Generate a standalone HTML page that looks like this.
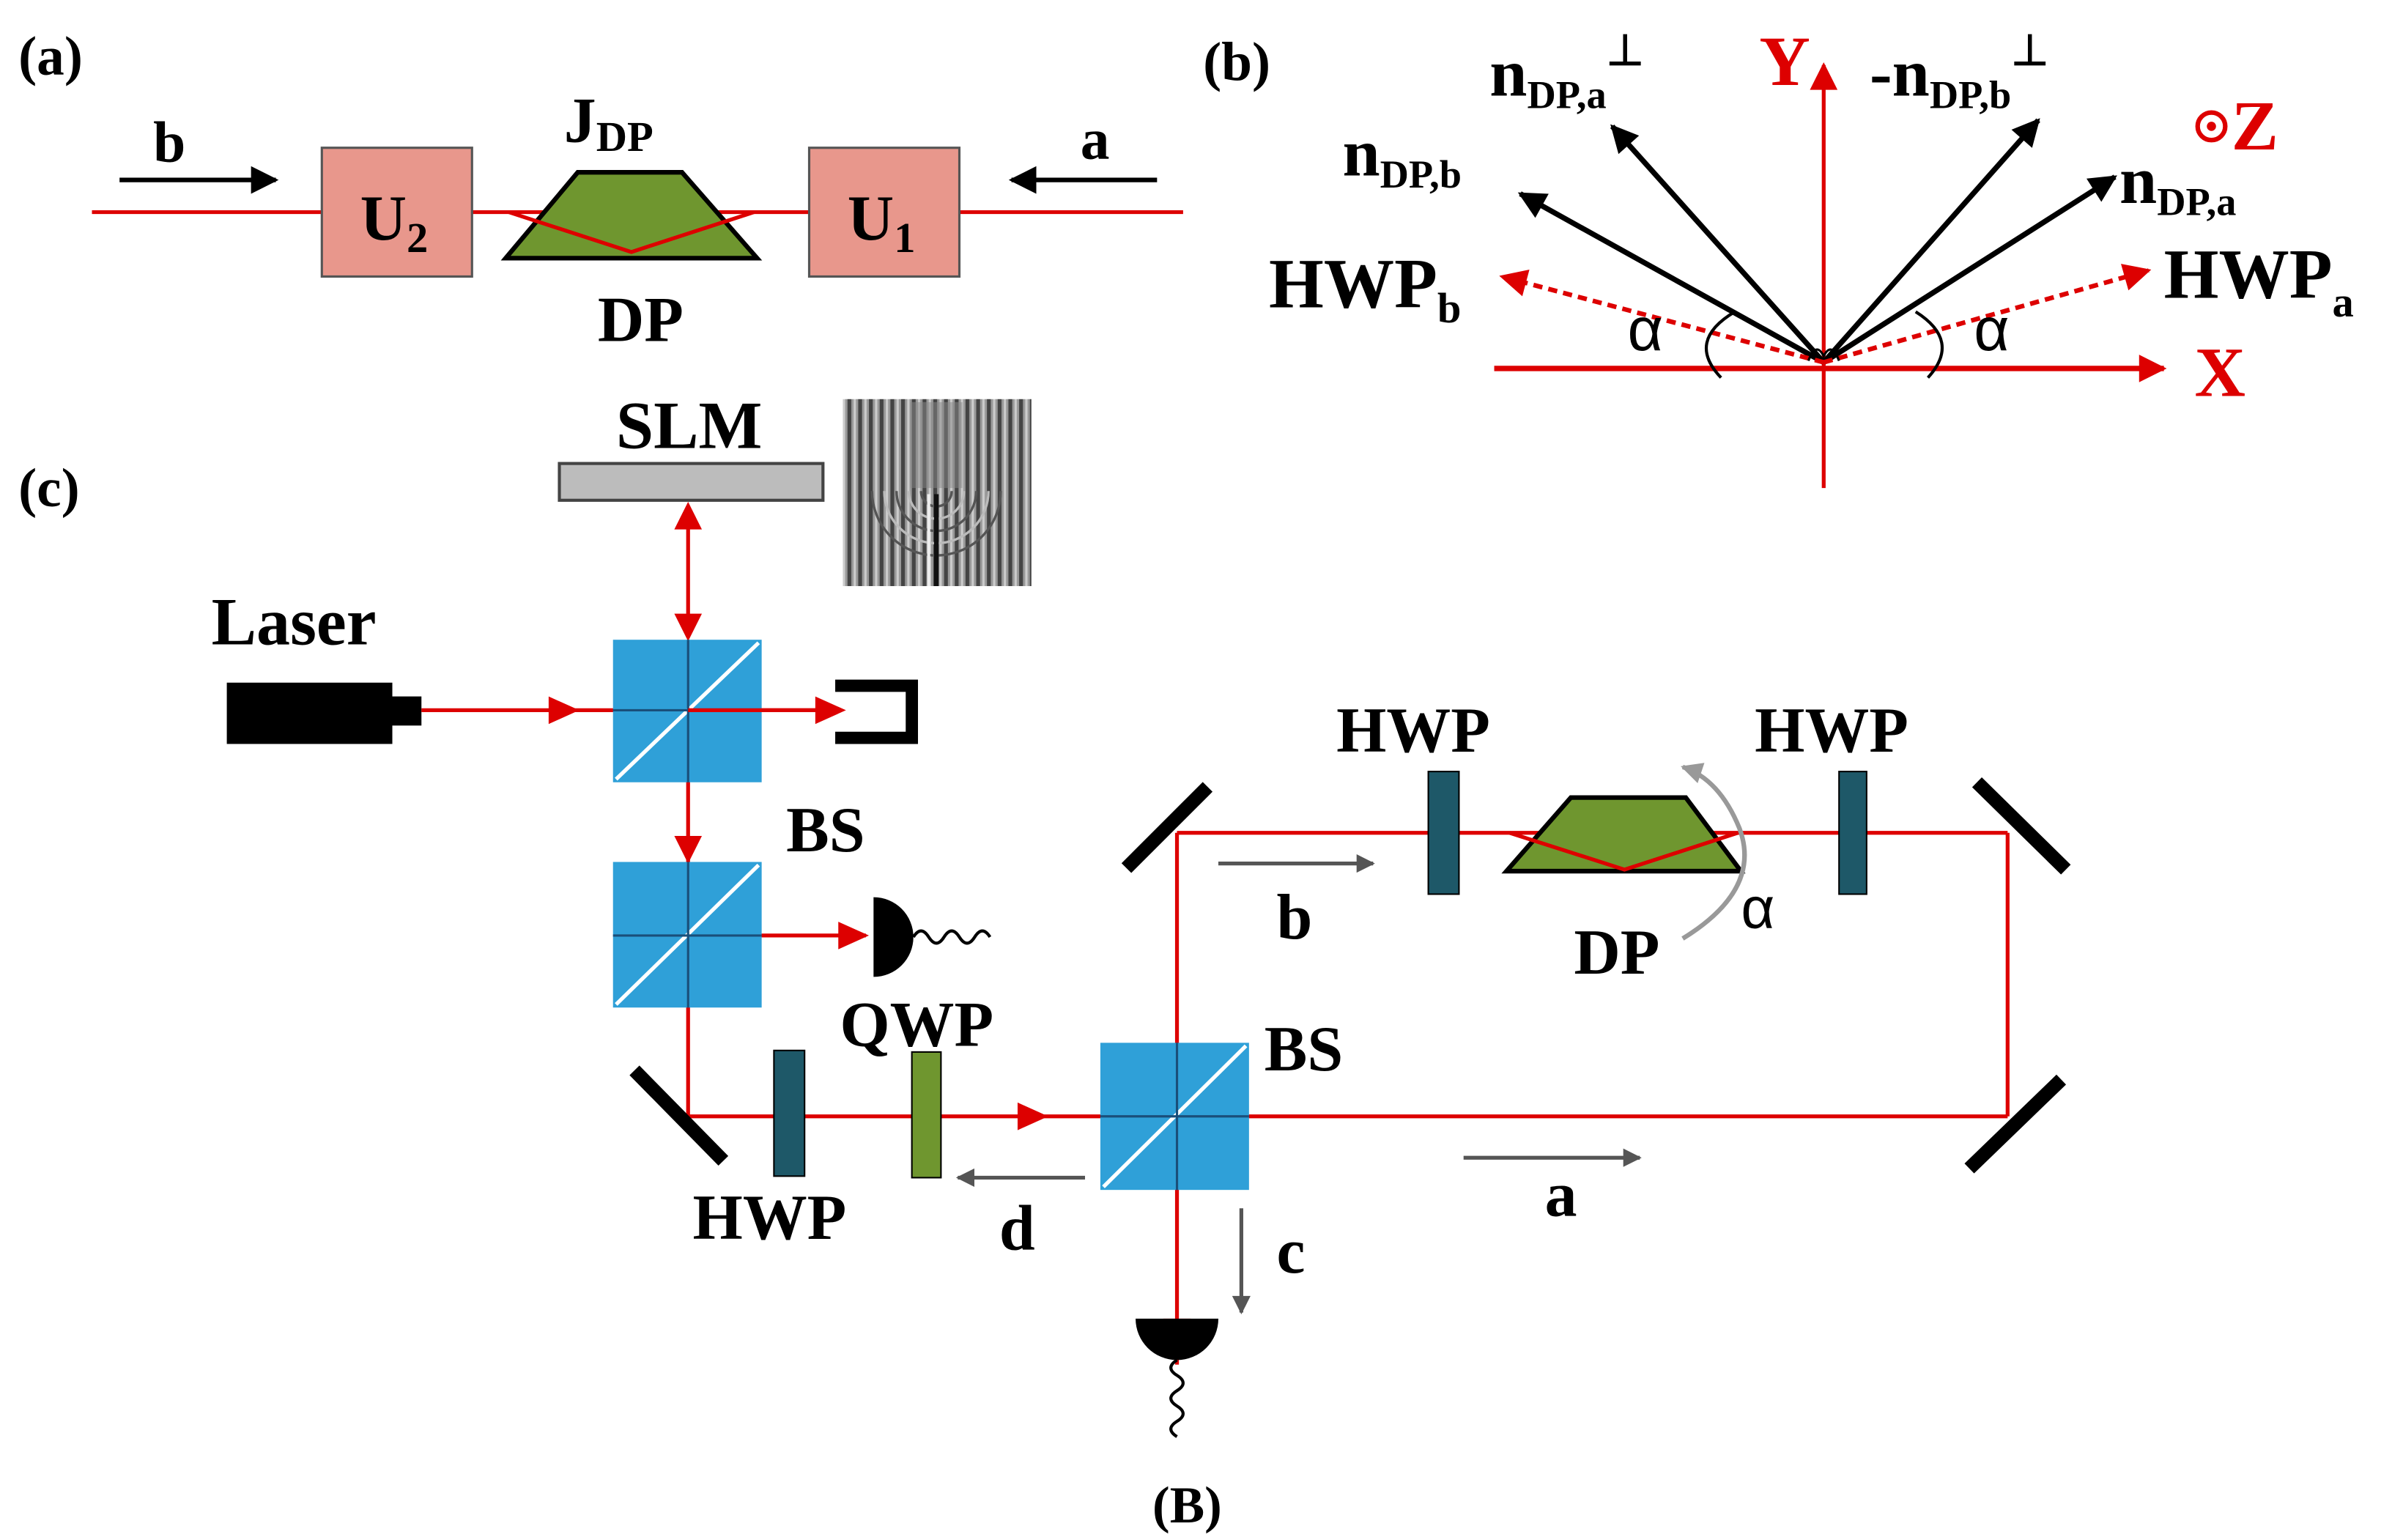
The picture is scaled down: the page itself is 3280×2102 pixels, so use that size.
<!DOCTYPE html>
<html><head><style>html,body{margin:0;padding:0;background:#fff}svg{display:block}</style></head>
<body>
<svg width="3280" height="2102" viewBox="0 0 1568 1004" xmlns="http://www.w3.org/2000/svg" font-family="Liberation Serif, serif" font-weight="bold">
<defs>
<marker id="arB" viewBox="0 0 10 10" markerWidth="22" markerHeight="18" refX="9" refY="5" orient="auto" markerUnits="userSpaceOnUse"><path d="M0,0 L10,5 L0,10z" fill="#000"/></marker>
<marker id="arR" viewBox="0 0 10 10" markerWidth="22" markerHeight="18" refX="9" refY="5" orient="auto" markerUnits="userSpaceOnUse"><path d="M0,0 L10,5 L0,10z" fill="#d00"/></marker>
<marker id="arG" viewBox="0 0 10 10" markerWidth="18" markerHeight="12" refX="9" refY="5" orient="auto" markerUnits="userSpaceOnUse"><path d="M0,0 L10,5 L0,10z" fill="#555"/></marker>
<marker id="arLG" viewBox="0 0 10 10" markerWidth="18" markerHeight="14" refX="9" refY="5" orient="auto" markerUnits="userSpaceOnUse"><path d="M0,0 L10,5 L0,10z" fill="#999"/></marker>
<pattern id="fr" width="7" height="10" patternUnits="userSpaceOnUse"><rect width="7" height="10" fill="#999"/><rect width="2.5" height="10" fill="#444"/><rect x="4" width="1.5" height="10" fill="#ccc"/></pattern>
<clipPath id="fc"><rect x="550" y="260" width="123" height="122"/></clipPath>
</defs>

<!-- (a) -->
<text x="12" y="48" font-size="36">(a)</text>
<line x1="60" y1="138" x2="772" y2="138" stroke="#d00" stroke-width="2.5"/>
<line x1="78" y1="117" x2="180" y2="117" stroke="#000" stroke-width="3" marker-end="url(#arB)"/>
<text x="100" y="105" font-size="38">b</text>
<line x1="755" y1="117" x2="660" y2="117" stroke="#000" stroke-width="3" marker-end="url(#arB)"/>
<text x="705" y="103" font-size="38">a</text>
<rect x="210" y="96" width="98" height="84" fill="#e8978c" stroke="#555" stroke-width="1.5"/>
<text x="235" y="156" font-size="42">U<tspan font-size="28" dy="8">2</tspan></text>
<rect x="528" y="96" width="98" height="84" fill="#e8978c" stroke="#555" stroke-width="1.5"/>
<text x="553" y="156" font-size="42">U<tspan font-size="28" dy="8">1</tspan></text>
<polygon points="330,168 377,112 445,112 494,168" fill="#6f962f" stroke="#000" stroke-width="3"/>
<polyline points="332,138 412,164 492,138" fill="none" stroke="#d00" stroke-width="2.5"/>
<text x="368" y="92" font-size="42">J<tspan font-size="28" dy="6">DP</tspan></text>
<text x="390" y="222" font-size="42">DP</text>

<!-- (b) -->
<text x="785" y="52" font-size="36">(b)</text>
<line x1="1190" y1="318" x2="1190" y2="42" stroke="#d00" stroke-width="2.5" marker-end="url(#arR)"/>
<line x1="975" y1="240" x2="1412" y2="240" stroke="#d00" stroke-width="3.5" marker-end="url(#arR)"/>
<text x="1148" y="55" font-size="46" fill="#d00">Y</text>
<text x="1432" y="258" font-size="46" fill="#d00">X</text>
<circle cx="1443" cy="82" r="9" fill="none" stroke="#d00" stroke-width="3"/><circle cx="1443" cy="82" r="3" fill="#d00"/>
<text x="1456" y="97" font-size="46" fill="#d00">Z</text>
<g stroke="#000" stroke-width="3.5">
<line x1="1190" y1="236" x2="1052" y2="82" marker-end="url(#arB)"/>
<line x1="1190" y1="236" x2="1330" y2="78" marker-end="url(#arB)"/>
<line x1="1190" y1="236" x2="992" y2="126" marker-end="url(#arB)"/>
<line x1="1190" y1="236" x2="1380" y2="115" marker-end="url(#arB)"/>
</g>
<g stroke="#d00" stroke-width="3" stroke-dasharray="6,4">
<line x1="1190" y1="236" x2="980" y2="180" marker-end="url(#arR)"/>
<line x1="1190" y1="236" x2="1402" y2="176" marker-end="url(#arR)"/>
</g>
<path d="M1132,203 Q1100,222 1123,246" fill="none" stroke="#000" stroke-width="2"/>
<path d="M1250,203 Q1280,222 1258,246" fill="none" stroke="#000" stroke-width="2"/>
<path d="M1180,235 Q1185,222 1190,232 Q1195,222 1200,235" fill="none" stroke="#000" stroke-width="1.5"/>
<text x="1062" y="228" font-size="40" font-weight="normal" font-family="Liberation Sans, sans-serif">α</text>
<text x="1288" y="228" font-size="40" font-weight="normal" font-family="Liberation Sans, sans-serif">α</text>
<text x="972" y="62" font-size="44">n<tspan font-size="26" dy="8">DP,a</tspan><tspan font-size="28" dy="-28">⊥</tspan></text>
<text x="1220" y="62" font-size="44">-n<tspan font-size="26" dy="8">DP,b</tspan><tspan font-size="28" dy="-28">⊥</tspan></text>
<text x="876" y="114" font-size="44">n<tspan font-size="26" dy="8">DP,b</tspan></text>
<text x="1383" y="132" font-size="44">n<tspan font-size="26" dy="8">DP,a</tspan></text>
<text x="828" y="200" font-size="46">HWP<tspan font-size="28" dy="10">b</tspan></text>
<text x="1412" y="194" font-size="46">HWP<tspan font-size="28" dy="12">a</tspan></text>

<!-- (c) -->
<text x="12" y="330" font-size="36">(c)</text>
<text x="402" y="292" font-size="44">SLM</text>
<rect x="365" y="302" width="172" height="24" fill="#bcbcbc" stroke="#444" stroke-width="2"/>
<rect x="550" y="260" width="123" height="122" fill="url(#fr)"/>
<g clip-path="url(#fc)" fill="none" stroke="#555" stroke-width="1.6">
<path d="M611,320 m-10,0 a10,10 0 0 0 20,0"/><path d="M611,320 m-18,0 a18,18 0 0 0 36,0" stroke="#bbb"/>
<path d="M611,320 m-26,0 a26,26 0 0 0 52,0"/><path d="M611,320 m-34,0 a34,34 0 0 0 68,0" stroke="#bbb"/>
<path d="M611,320 m-42,0 a42,42 0 0 0 84,0"/>
<line x1="611" y1="322" x2="611" y2="382" stroke="#111" stroke-width="3"/>
<line x1="606" y1="322" x2="606" y2="382" stroke="#eee" stroke-width="2"/>
</g>
<rect x="594" y="262" width="34" height="56" fill="#888" opacity="0.5"/>
<text x="138" y="420" font-size="44">Laser</text>
<rect x="148" y="445" width="108" height="40" fill="#000"/>
<rect x="255" y="454" width="20" height="19" fill="#000"/>

<g stroke="#d00" stroke-width="2.5" fill="none">
<line x1="449" y1="335" x2="449" y2="415"/>
<line x1="275" y1="463" x2="545" y2="463"/>
<line x1="449" y1="463" x2="449" y2="728"/>
<line x1="449" y1="610" x2="565" y2="610"/>
<line x1="449" y1="728" x2="1310" y2="728"/>
<line x1="768" y1="543" x2="768" y2="890"/>
<line x1="768" y1="543" x2="1310" y2="543"/>
<line x1="1310" y1="543" x2="1310" y2="728"/>
</g>
<g fill="#d00">
<path d="M449,327 L440,345 L458,345z"/><path d="M449,418 L440,400 L458,400z"/>
<path d="M378,463 L358,454 L358,472z"/><path d="M552,463 L532,454 L532,472z"/>
<path d="M449,563 L440,545 L458,545z"/>
<path d="M567,610 L547,601 L547,619z"/>
<path d="M684,728 L664,719 L664,737z"/>
<path d="M768,880 L759,860 L777,860z"/>
</g>
<path d="M545,447 H595 V481 H545" fill="none" stroke="#000" stroke-width="8"/>
<g>
<rect x="400" y="417" width="97" height="93" fill="#2fa0d8"/>
<rect x="400" y="562" width="97" height="95" fill="#2fa0d8"/>
<rect x="718" y="680" width="97" height="96" fill="#2fa0d8"/>
</g>
<g stroke="#fff" stroke-width="2.5">
<line x1="402" y1="508" x2="495" y2="419"/>
<line x1="402" y1="655" x2="495" y2="564"/>
<line x1="720" y1="774" x2="813" y2="682"/>
</g>
<g stroke="#1a4f7a" stroke-width="1.5">
<line x1="449" y1="417" x2="449" y2="510"/><line x1="400" y1="463" x2="497" y2="463"/>
<line x1="449" y1="562" x2="449" y2="657"/><line x1="400" y1="610" x2="497" y2="610"/>
<line x1="768" y1="680" x2="768" y2="776"/><line x1="718" y1="728" x2="815" y2="728"/>
</g>
<line x1="449" y1="463" x2="545" y2="463" stroke="#d00" stroke-width="2.5"/>
<text x="513" y="555" font-size="42">BS</text>
<text x="825" y="698" font-size="42">BS</text>
<path d="M570,585 A25,25 0 0 1 570,637 Z" fill="#000"/>
<path d="M596,611 q5,-8 10,0 t10,0 t10,0 t10,0 t10,0" fill="none" stroke="#000" stroke-width="2"/>
<path d="M741,860 A27,27 0 0 0 795,860 Z" fill="#000"/>
<path d="M768,887 q-8,5 0,10 t0,10 t0,10 t0,10 t0,10" fill="none" stroke="#000" stroke-width="2"/>
<g stroke="#000" stroke-width="9">
<line x1="414" y1="698" x2="472" y2="757"/>
<line x1="735" y1="566" x2="788" y2="513"/>
<line x1="1290" y1="510" x2="1348" y2="567"/>
<line x1="1285" y1="762" x2="1345" y2="704"/>
</g>
<rect x="505" y="685" width="20" height="82" fill="#1e5868" stroke="#000" stroke-width="1"/>
<rect x="595" y="686" width="19" height="82" fill="#6f962f" stroke="#000" stroke-width="1"/>
<rect x="932" y="503" width="20" height="80" fill="#1e5868" stroke="#000" stroke-width="1"/>
<rect x="1200" y="503" width="18" height="80" fill="#1e5868" stroke="#000" stroke-width="1"/>
<text x="548" y="682" font-size="42">QWP</text>
<text x="452" y="808" font-size="42">HWP</text>
<text x="872" y="490" font-size="42">HWP</text>
<text x="1145" y="490" font-size="42">HWP</text>
<polygon points="983,568 1025,520 1100,520 1136,568" fill="#6f962f" stroke="#000" stroke-width="3"/>
<polyline points="985,543 1060,567 1134,543" fill="none" stroke="#d00" stroke-width="2.5"/>
<path d="M1098,612 Q1150,580 1135,540 Q1122,508 1098,500" fill="none" stroke="#999" stroke-width="3" marker-end="url(#arLG)"/>
<text x="1136" y="605" font-size="38" font-weight="normal" font-family="Liberation Sans, sans-serif">α</text>
<text x="1027" y="635" font-size="42">DP</text>
<line x1="795" y1="563" x2="896" y2="563" stroke="#555" stroke-width="2.5" marker-end="url(#arG)"/>
<text x="833" y="612" font-size="42">b</text>
<line x1="955" y1="755" x2="1070" y2="755" stroke="#555" stroke-width="2.5" marker-end="url(#arG)"/>
<text x="1008" y="793" font-size="42">a</text>
<line x1="708" y1="768" x2="625" y2="768" stroke="#555" stroke-width="2.5" marker-end="url(#arG)"/>
<text x="652" y="815" font-size="42">d</text>
<line x1="810" y1="788" x2="810" y2="856" stroke="#555" stroke-width="2.5" marker-end="url(#arG)"/>
<text x="833" y="830" font-size="42">c</text>
<text x="752" y="993" font-size="34">(B)</text>
</svg>
</body></html>
